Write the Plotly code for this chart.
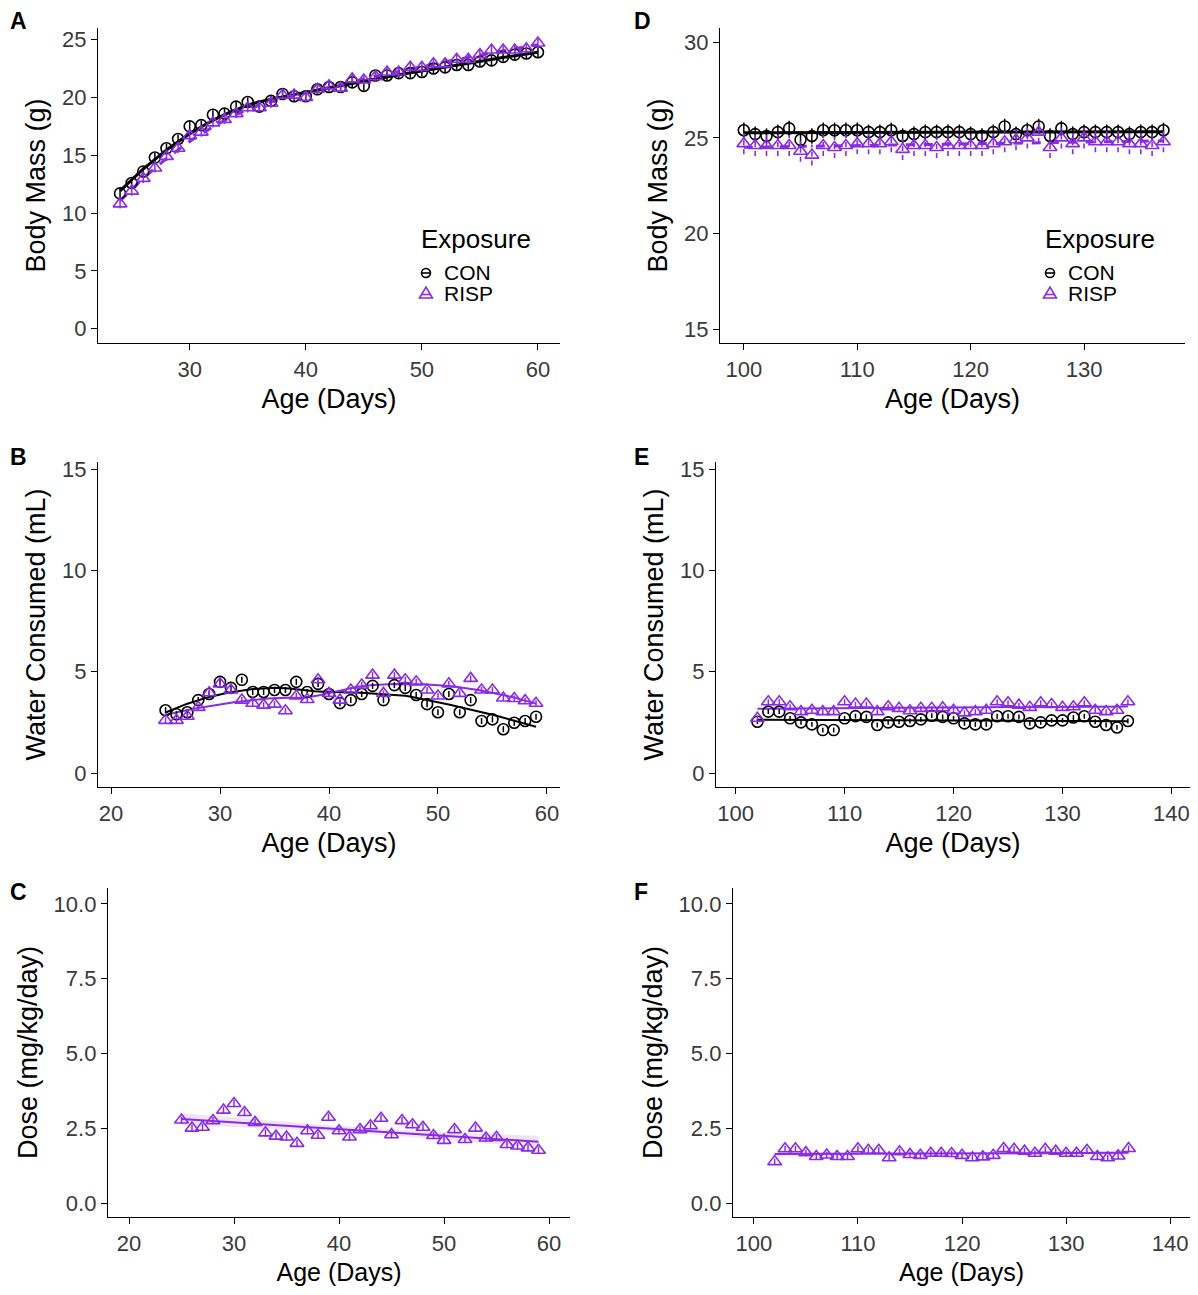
import numpy as np
import plotly.graph_objects as go

CON_COL = "black"
RISP_COL = "#8A2BE2"
FONT = "Arial, Liberation Sans, sans-serif"

# ---- panel A: body mass, juvenile ----
a_days = list(range(24, 61))
a_con = [11.7, 12.6, 13.6, 14.8, 15.6, 16.4, 17.5, 17.6, 18.5, 18.6, 19.2, 19.6, 19.2,
         19.7, 20.3, 20.1, 20.1, 20.7, 20.9, 20.9, 21.3, 21.0, 21.9, 21.9, 22.1, 22.1,
         22.2, 22.5, 22.6, 22.8, 22.8, 23.1, 23.2, 23.5, 23.7, 23.8, 23.9]
a_risp = [10.8, 11.9, 13.0, 13.9, 14.9, 15.6, 16.7, 17.0, 17.8, 18.1, 18.6, 19.1, 19.1,
          19.5, 20.2, 20.2, 20.0, 20.7, 21.0, 20.8, 21.6, 21.5, 21.8, 22.2, 22.2, 22.6,
          22.6, 22.9, 22.9, 23.3, 23.3, 23.7, 24.1, 24.1, 24.1, 24.2, 24.7]

# ---- panel D: body mass, adult ----
d_days = list(range(100, 138))
d_con = [25.4, 25.2, 25.1, 25.3, 25.5, 24.9, 25.1, 25.4, 25.4, 25.4, 25.4, 25.3, 25.3,
         25.4, 25.1, 25.2, 25.3, 25.3, 25.3, 25.3, 25.2, 25.1, 25.3, 25.6, 25.2, 25.4,
         25.6, 25.1, 25.5, 25.2, 25.3, 25.3, 25.3, 25.3, 25.2, 25.3, 25.3, 25.4]
d_risp = [24.7, 24.6, 24.6, 24.6, 24.6, 24.3, 24.1, 24.6, 24.5, 24.6, 24.7, 24.7, 24.7,
          24.8, 24.4, 24.6, 24.6, 24.5, 24.6, 24.6, 24.6, 24.6, 24.7, 24.8, 24.9, 25.0,
          25.3, 24.5, 25.0, 24.7, 25.0, 24.8, 24.8, 24.8, 24.7, 24.7, 24.6, 24.8]

# ---- panel B: water, juvenile ----
b_days = list(range(25, 60))
b_con = [3.1, 2.9, 3.0, 3.6, 3.9, 4.5, 4.2, 4.6, 4.0, 4.0, 4.1, 4.1, 4.5, 4.0, 4.4,
         3.9, 3.45, 3.6, 3.9, 4.3, 3.6, 4.34, 4.2, 3.85, 3.4, 3.0, 3.9, 3.0, 3.6, 2.57,
         2.65, 2.16, 2.48, 2.57, 2.78]
b_risp = [2.6, 2.6, 2.8, 3.24, 3.96, 4.4, 4.1, 3.6, 3.44, 3.35, 3.4, 3.07, 3.8, 3.63,
          4.6, 3.93, 3.6, 4.1, 4.34, 4.83, 3.93, 4.83, 4.6, 4.5, 4.1, 3.8, 4.4, 3.93,
          4.67, 4.1, 4.1, 3.7, 3.68, 3.57, 3.44]

# ---- panel E: water, adult ----
e_days = list(range(102, 137))
e_con = [2.53, 3.03, 3.03, 2.7, 2.5, 2.4, 2.12, 2.12, 2.7, 2.81, 2.77, 2.37, 2.5, 2.53,
         2.57, 2.65, 2.83, 2.77, 2.7, 2.45, 2.4, 2.4, 2.8, 2.8, 2.77, 2.45, 2.5, 2.6,
         2.6, 2.74, 2.8, 2.53, 2.37, 2.25, 2.57]
e_risp = [2.7, 3.52, 3.52, 3.27, 3.03, 3.1, 3.03, 3.03, 3.52, 3.4, 3.4, 3.03, 3.27, 3.19,
          3.07, 3.19, 3.19, 3.22, 3.1, 2.97, 3.03, 3.1, 3.52, 3.47, 3.35, 3.24, 3.47,
          3.38, 3.24, 3.27, 3.47, 3.1, 3.03, 3.1, 3.52]

# ---- panel C: dose, juvenile ----
c_days = list(range(25, 60))
c_risp = [2.78, 2.51, 2.54, 2.76, 3.11, 3.33, 3.03, 2.7, 2.35, 2.24, 2.21, 2.0, 2.42,
          2.27, 2.87, 2.42, 2.21, 2.46, 2.59, 2.84, 2.29, 2.76, 2.62, 2.54, 2.26, 2.1,
          2.46, 2.13, 2.51, 2.18, 2.2, 1.96, 1.91, 1.85, 1.77]

# ---- panel F: dose, adult ----
f_days = list(range(102, 137))
f_risp = [1.39, 1.82, 1.82, 1.69, 1.56, 1.61, 1.56, 1.56, 1.82, 1.77, 1.77, 1.52, 1.72,
          1.63, 1.6, 1.67, 1.67, 1.66, 1.6, 1.52, 1.55, 1.6, 1.83, 1.8, 1.74, 1.67, 1.8,
          1.74, 1.67, 1.67, 1.77, 1.56, 1.52, 1.58, 1.83]

# standard errors (approx)
se = {"A": (0.4, 0.4), "D": (0.4, 0.55), "B": (0.15, 0.15), "E": (0.12, 0.12),
      "C": 0.12, "F": 0.1}

# page has an 8px body margin, so the figure is a bit smaller and offset
OFF = 8
W, H = 1198 - 2 * OFF, 1295 - 2 * OFF


def px_x(a, b):
    return [(a - OFF) / W, (b - OFF) / W]


def px_y(top, bottom):
    return [1 - (bottom - OFF) / H, 1 - (top - OFF) / H]


def fx(p):
    return (p - OFF) / W


def fy(p):
    return 1 - (p - OFF) / H


fig = go.Figure()


def points(x, y, col, sym, size, err, xa, ya, name, dashed_err=False):
    err_y = dict(type="constant", value=err, width=0, thickness=1.5, color=col)
    if dashed_err:
        # dashed error bars drawn as separate segments
        ex, ey = [], []
        for xi, yi in zip(x, y):
            ex += [xi, xi, None]
            ey += [yi - err, yi + err, None]
        fig.add_trace(go.Scatter(x=ex, y=ey, mode="lines", showlegend=False,
                                 xaxis=xa, yaxis=ya, hoverinfo="skip",
                                 line=dict(color=col, width=1.6, dash="5px,4px")))
        err_y = dict(visible=False)
    fig.add_trace(go.Scatter(
        x=x, y=y, mode="markers", name=name, xaxis=xa, yaxis=ya, showlegend=False,
        marker=dict(symbol=sym, size=size, color=col, line=dict(width=1.6, color=col)),
        error_y=err_y))


def loess(x, y, xs, span=0.75):
    # local quadratic fit with tricube weights (like geom_smooth default)
    n = len(x)
    q = int(np.floor(n * span))
    out = []
    for x0 in xs:
        d = np.abs(x - x0)
        h = np.sort(d)[q - 1]
        w = np.clip(1 - (d / h) ** 3, 0, None) ** 3
        c = np.polyfit(x, y, 2, w=np.sqrt(w))
        out.append(np.polyval(c, x0))
    return np.array(out)


def smooth(x, y, col, width, xa, ya, method="loess", dash="solid", band=False):
    x = np.array(x, float)
    y = np.array(y, float)
    xs = np.linspace(x.min(), x.max(), 120)
    if method == "loess":
        ys = loess(x, y, xs)
    else:
        coef = np.polyfit(x, y, 1)
        ys = np.polyval(coef, xs)
    if band:
        n = len(x)
        resid = y - np.polyval(coef, x)
        s = np.sqrt(np.sum(resid ** 2) / (n - 2))
        sxx = np.sum((x - x.mean()) ** 2)
        half = 2.03 * s * np.sqrt(1 / n + (xs - x.mean()) ** 2 / sxx)
        fig.add_trace(go.Scatter(x=np.concatenate([xs, xs[::-1]]),
                                 y=np.concatenate([ys + half, (ys - half)[::-1]]),
                                 fill="toself", fillcolor="rgba(138,43,226,0.13)",
                                 line=dict(width=0), mode="lines", hoverinfo="skip",
                                 showlegend=False, xaxis=xa, yaxis=ya))
    fig.add_trace(go.Scatter(x=xs, y=ys, mode="lines", showlegend=False, xaxis=xa, yaxis=ya,
                             line=dict(color=col, width=width, dash=dash)))


# A
smooth(a_days, a_con, CON_COL, 3, "x", "y")
smooth(a_days, a_risp, RISP_COL, 3, "x", "y", dash="dash")
points(a_days, a_con, CON_COL, "circle-open", 11, se["A"][0], "x", "y", "CON")
points(a_days, a_risp, RISP_COL, "triangle-up-open", 12, se["A"][1], "x", "y", "RISP")
# D
smooth(d_days, d_con, CON_COL, 3, "x2", "y2", method="lm")
smooth(d_days, d_risp, RISP_COL, 3, "x2", "y2", method="lm", dash="dash")
points(d_days, d_con, CON_COL, "circle-open", 11, se["D"][0], "x2", "y2", "CON")
points(d_days, d_risp, RISP_COL, "triangle-up-open", 12, se["D"][1], "x2", "y2", "RISP",
       dashed_err=True)
# B
smooth(b_days, b_con, CON_COL, 2, "x3", "y3")
smooth(b_days, b_risp, RISP_COL, 2, "x3", "y3")
points(b_days, b_con, CON_COL, "circle-open", 11, se["B"][0], "x3", "y3", "CON")
points(b_days, b_risp, RISP_COL, "triangle-up-open", 12, se["B"][1], "x3", "y3", "RISP")
# E
smooth(e_days, e_con, CON_COL, 2, "x4", "y4", method="lm")
smooth(e_days, e_risp, RISP_COL, 2, "x4", "y4", method="lm")
points(e_days, e_con, CON_COL, "circle-open", 11, se["E"][0], "x4", "y4", "CON")
points(e_days, e_risp, RISP_COL, "triangle-up-open", 12, se["E"][1], "x4", "y4", "RISP")
# C
smooth(c_days, c_risp, RISP_COL, 2, "x5", "y5", method="lm", band=True)
points(c_days, c_risp, RISP_COL, "triangle-up-open", 12, se["C"], "x5", "y5", "RISP")
# F
smooth(f_days, f_risp, RISP_COL, 2, "x6", "y6", method="lm", band=True)
points(f_days, f_risp, RISP_COL, "triangle-up-open", 12, se["F"], "x6", "y6", "RISP")


def xax(dom, rng, ticks, anchor, tsize=27):
    return dict(domain=dom, range=rng, tickvals=ticks, anchor=anchor, showline=True,
                linecolor="black", linewidth=1.4, ticks="outside", ticklen=6,
                tickcolor="black", tickwidth=1.4, showgrid=False, zeroline=False,
                tickfont=dict(size=22, color="#3a3a3a", family=FONT), automargin=False,
                title=dict(text="Age (Days)", font=dict(size=tsize, color="black", family=FONT),
                           standoff=8))


def yax(dom, rng, ticks, title, anchor, fmt=None):
    d = dict(domain=dom, range=rng, tickvals=ticks, anchor=anchor, showline=True,
             linecolor="black", linewidth=1.4, ticks="outside", ticklen=6,
             tickcolor="black", tickwidth=1.4, showgrid=False, zeroline=False,
             tickfont=dict(size=22, color="#3a3a3a", family=FONT), automargin=False,
             title=dict(text=title, font=dict(size=27, color="black", family=FONT),
                        standoff=8))
    if fmt:
        d["tickformat"] = fmt
    return d


row1 = px_y(28, 343)
row2 = px_y(462, 787)
row3 = px_y(888, 1217)

fig.update_layout(
    width=W, height=H, autosize=False, plot_bgcolor="white", paper_bgcolor="white",
    margin=dict(l=0, r=0, t=0, b=0), font=dict(family=FONT, color="black"),
    showlegend=False,
    xaxis=xax(px_x(98, 560), [22.1, 61.9], [30, 40, 50, 60], "y"),
    yaxis=yax(row1, [-1.23, 26.0], [0, 5, 10, 15, 20, 25], "Body Mass (g)", "x"),
    xaxis2=xax(px_x(720, 1185), [97.9, 138.9], [100, 110, 120, 130], "y2"),
    yaxis2=yax(row1, [14.27, 30.75], [15, 20, 25, 30], "Body Mass (g)", "x2"),
    xaxis3=xax(px_x(98, 560), [18.8, 61.2], [20, 30, 40, 50, 60], "y3"),
    yaxis3=yax(row2, [-0.69, 15.35], [0, 5, 10, 15], "Water Consumed (mL)", "x3"),
    xaxis4=xax(px_x(716, 1190), [98.2, 141.7], [100, 110, 120, 130, 140], "y4"),
    yaxis4=yax(row2, [-0.69, 15.35], [0, 5, 10, 15], "Water Consumed (mL)", "x4"),
    xaxis5=xax(px_x(108, 570), [18.0, 62.0], [20, 30, 40, 50, 60], "y5", tsize=25),
    yaxis5=yax(row3, [-0.46, 10.53], [0, 2.5, 5, 7.5, 10], "Dose (mg/kg/day)", "x5", ".1f"),
    xaxis6=xax(px_x(733, 1190), [98.0, 141.9], [100, 110, 120, 130, 140], "y6", tsize=25),
    yaxis6=yax(row3, [-0.46, 10.53], [0, 2.5, 5, 7.5, 10], "Dose (mg/kg/day)", "x6", ".1f"),
)

# legends drawn by hand (ggplot-style tight spacing) inside panels A and D
shapes = []
for lx in (422, 1046):
    fig.add_annotation(text="Exposure", xref="paper", yref="paper", x=fx(lx - 3), y=fy(239),
                       xanchor="left", yanchor="middle", showarrow=False,
                       font=dict(size=26, family=FONT, color="black"))
    for label, yy in (("CON", 273), ("RISP", 293)):
        fig.add_annotation(text=label, xref="paper", yref="paper", x=fx(lx + 20), y=fy(yy),
                           xanchor="left", yanchor="middle", showarrow=False,
                           font=dict(size=21, family=FONT, color="black"))
    cx = lx + 4
    shapes.append(dict(type="circle", xref="paper", yref="paper",
                       x0=fx(cx - 4.5), x1=fx(cx + 4.5), y0=fy(273 + 4.5), y1=fy(273 - 4.5),
                       line=dict(color=CON_COL, width=1.6)))
    shapes.append(dict(type="line", xref="paper", yref="paper",
                       x0=fx(cx - 4.5), x1=fx(cx + 4.5), y0=fy(273), y1=fy(273),
                       line=dict(color=CON_COL, width=1.6)))
    shapes.append(dict(type="path", xref="paper", yref="paper",
                       path="M %f,%f L %f,%f L %f,%f Z" % (fx(cx - 6.5), fy(298), fx(cx + 6.5),
                                                           fy(298), fx(cx), fy(287)),
                       line=dict(color=RISP_COL, width=1.6)))
    shapes.append(dict(type="line", xref="paper", yref="paper",
                       x0=fx(cx - 5), x1=fx(cx + 5), y0=fy(294.5), y1=fy(294.5),
                       line=dict(color=RISP_COL, width=1.6)))
fig.update_layout(shapes=shapes)

for letter, lx, ly in [("A", 8, 21), ("B", 8, 457), ("C", 8, 892),
                       ("D", 632, 21), ("E", 632, 457), ("F", 632, 892)]:
    fig.add_annotation(text="<b>" + letter + "</b>", xref="paper", yref="paper",
                       x=fx(lx), y=fy(ly), xanchor="left", yanchor="middle",
                       showarrow=False, font=dict(size=23, family=FONT, color="black"))

fig.write_html("out.html")
